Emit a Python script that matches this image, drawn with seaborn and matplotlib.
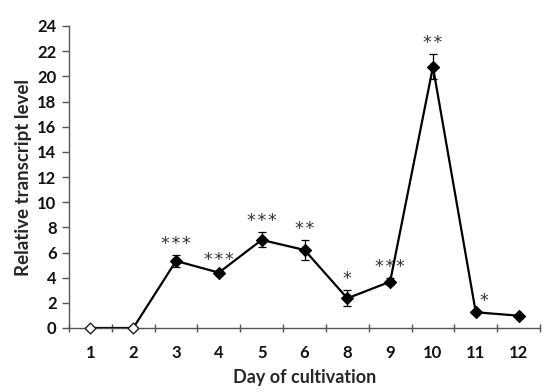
import matplotlib
matplotlib.use("Agg")
import matplotlib.pyplot as plt
import seaborn as sns
import pandas as pd
import numpy as np
from matplotlib.ticker import FixedLocator, MultipleLocator

days = ["1", "2", "3", "4", "5", "6", "8", "9", "10", "11", "12"]
values = [0, 0, 5.33, 4.4, 7.0, 6.2, 2.36, 3.68, 20.75, 1.25, 0.98]
errors = [0, 0, 0.45, 0.15, 0.6, 0.8, 0.65, 0.3, 1.0, 0.0, 0.0]
stars = ["", "", "***", "***", "***", "**", "*", "***", "**", "*", ""]
open_marker = [True, True, False, False, False, False, False, False, False, False, False]

sns.set_theme(style="white")
plt.rcParams["font.family"] = ["Lato", "DejaVu Sans"]

df = pd.DataFrame({"day": days, "value": values, "err": errors})
df["pos"] = np.arange(len(days))

fig = plt.figure(figsize=(5.5, 3.92), dpi=100)
ax = fig.add_axes([69/550, 1 - 328/392, (540-69)/550, (328-26)/392])

sns.lineplot(data=df, x="pos", y="value", color="black", linewidth=1.6, ax=ax, zorder=2)
ax.errorbar(df["pos"], df["value"], yerr=df["err"], fmt="none", ecolor="black",
            elinewidth=0.9, capsize=3, capthick=0.9, zorder=3)
filled = df[[not o for o in open_marker]]
opened = df[open_marker]
sns.scatterplot(data=filled, x="pos", y="value", marker="D", color="black",
                s=38, edgecolor="black", linewidth=0.8, ax=ax, zorder=4)
sns.scatterplot(data=opened, x="pos", y="value", marker="D", color="white",
                s=30, edgecolor="#222222", linewidth=1.0, ax=ax, zorder=4, clip_on=False)

for i, (v, e, s) in enumerate(zip(values, errors, stars)):
    if not s:
        continue
    dx = 0.2 if e == 0 else 0
    ax.text(i + dx, v + e + 0.15, "\u200a".join(s), ha="center", va="bottom", fontsize=12.5,
            color="#333333", family="DejaVu Sans")

ax.set_xlim(-0.5, len(days) - 0.5)
ax.set_ylim(0, 24)
ax.yaxis.set_major_locator(MultipleLocator(2))
ax.set_xticks(df["pos"])
ax.set_xticklabels(days)
ax.xaxis.set_minor_locator(FixedLocator(np.arange(-0.5, len(days), 1)))
ax.tick_params(axis="x", which="major", length=0, pad=12, labelsize=12, labelcolor="#111111")
ax.tick_params(axis="x", which="minor", length=6, width=1, color="#555555", direction="inout", bottom=True)
ax.tick_params(axis="y", which="major", length=5, width=1, color="#555555", direction="out", left=True, labelsize=12, pad=4, labelcolor="#111111")
for lbl in ax.get_xticklabels() + ax.get_yticklabels():
    lbl.set_fontweight("bold")

for side in ["top", "right"]:
    ax.spines[side].set_visible(False)
for side in ["left", "bottom"]:
    ax.spines[side].set_color("#555555")
    ax.spines[side].set_linewidth(1)

ax.set_xlabel("Day of cultivation", fontsize=13, fontweight="bold", labelpad=6)
ax.set_ylabel("Relative transcript level", fontsize=13.5, fontweight="bold", labelpad=4)

fig.savefig("out.png", dpi=100)
